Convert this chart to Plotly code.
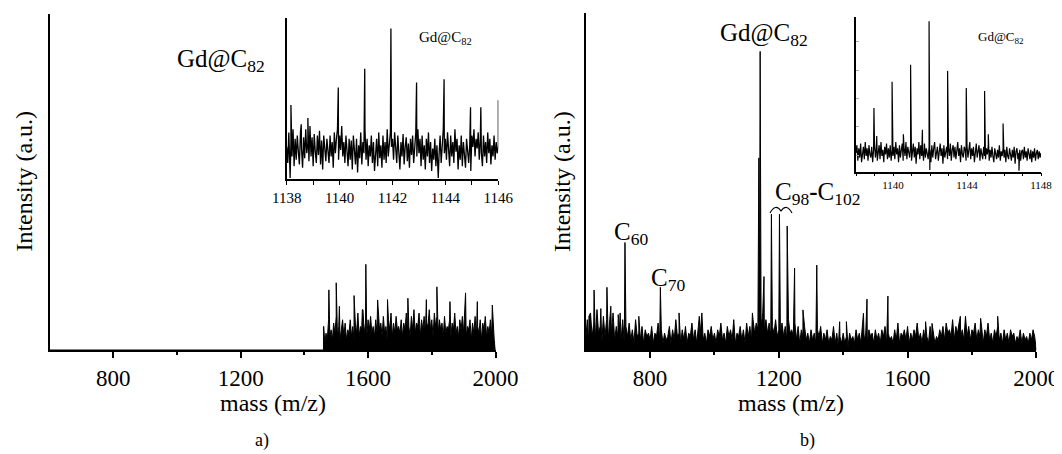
import plotly.graph_objects as go

W, H = 1062, 454
OFF = 8  # page body margin of the html page

# ---------------- data ----------------
# Panel a main spectrum (noise band from 1460 to 2000, step 4), intensity in % of axis height
a_noise_start, a_noise_step = 1460, 4
a_noise = [
    7, 2, 5, 3, 9, 4, 6, 3, 8, 5, 10, 4, 7, 3, 6, 9, 4, 8, 3, 6,
    5, 9, 4, 7, 3, 8, 5, 11, 4, 7, 6, 12, 5, 8, 4, 9, 6, 10, 5, 7,
    4, 9, 5, 11, 6, 8, 4, 10, 5, 7, 3, 9, 6, 11, 4, 8, 5, 10, 6, 7,
    5, 9, 4, 8, 6, 11, 5, 7, 4, 10, 6, 12, 5, 8, 7, 11, 4, 9, 6, 10,
    5, 8, 7, 12, 6, 9, 4, 11, 7, 10, 5, 9, 6, 8, 4, 10, 5, 7, 6, 9,
    4, 8, 6, 11, 5, 7, 4, 9, 6, 10, 5, 12, 4, 7, 6, 9, 3, 8, 5, 10,
    4, 7, 5, 9, 3, 8, 6, 10, 4, 7, 5, 9, 4, 8, 3, 0,
]
a_peak_mass = [1461, 1477, 1500, 1510, 1556, 1582, 1593, 1630, 1661, 1725, 1783, 1816, 1857, 1906, 1943, 1990]
a_peak_int = [7, 17.9, 20, 13, 16.2, 12, 25.5, 14.9, 15, 15.4, 15, 18.8, 14.4, 17, 14.4, 13.4]

# Panel b main spectrum (600..2000 step 5)
b_noise_start, b_noise_step = 600, 5
b_noise = [
    3, 9, 2, 11, 4, 8, 3, 12, 5, 7, 2, 10, 4, 9, 3, 8, 5, 11, 3, 7, 4,
    6, 3, 9, 2, 7, 4, 8, 3, 6, 2, 9, 4, 5, 3, 7, 2, 6, 4, 5, 3,
    7, 2, 5, 4, 8, 3, 6, 2, 5, 3, 4, 7, 2, 6, 3, 9, 4, 5, 2, 6,
    3, 7, 2, 5, 4, 8, 3, 6, 2, 7, 4, 9, 3, 5, 2, 6, 4, 7, 3, 5,
    2, 6, 4, 8, 3, 5, 2, 7, 4, 6, 3, 9, 2, 5, 4, 7, 3, 6, 2, 8,
    4, 7, 3, 9, 5, 8, 6, 10, 7, 11, 6, 9, 5, 8, 4, 7, 5, 9, 4, 6,
    5, 8, 4, 7, 3, 9, 5, 6, 4, 8, 3, 7, 2, 6, 4, 7, 3, 5, 2, 6,
    3, 5, 2, 6, 4, 7, 2, 5, 3, 6, 2, 4, 3, 7, 2, 5, 1, 4, 2, 5,
    2, 4, 1, 5, 3, 4, 2, 6, 3, 5, 2, 7, 3, 5, 2, 6, 4, 5, 2, 6,
    3, 5, 2, 6, 4, 7, 2, 5, 3, 4, 2, 6, 3, 8, 2, 5, 4, 6, 3, 7,
    2, 5, 3, 6, 4, 8, 3, 5, 2, 6, 3, 4, 2, 7, 3, 5, 2, 4, 3, 6,
    4, 7, 3, 8, 5, 6, 4, 9, 3, 7, 5, 8, 4, 6, 3, 9, 4, 7, 3, 6,
    5, 8, 3, 6, 4, 7, 2, 6, 4, 8, 3, 5, 2, 6, 4, 7, 3, 5, 2, 6,
    3, 5, 2, 6, 4, 5, 2, 4, 3, 6, 2, 5, 3, 4, 2, 5, 3, 6, 4, 0,
]
b_peak_mass = [610, 626, 647, 666, 678, 701, 707, 722, 765, 832, 890, 953, 961, 1118,
               1138, 1142, 1154, 1177, 1202, 1226, 1249, 1275, 1318, 1389, 1410, 1463,
               1474, 1539, 1656, 1676, 1764, 1780, 1827, 1880, 1990]
b_peak_int = [10, 17.8, 12.3, 18.6, 13, 10.5, 11, 31.9, 10, 18.6, 11, 10, 11, 11,
              57, 88.6, 21.8, 40.3, 40.3, 36.8, 24.3, 11.9, 25.2, 8.4, 8.4, 10.9,
              15.1, 16, 8.4, 7.9, 10, 10, 9.4, 10, 5.9]

# Inset a (1138..1146, step 0.04)
ia_start, ia_step = 1138.0, 0.04
ia_noise = [
    20, 10, 29, 6, 23, 14, 31, 8, 25, 12, 27, 17, 9, 29, 19, 7, 26, 13, 31, 16,
    23, 11, 33, 14, 26, 8, 28, 17, 10, 27, 15, 30, 9, 24, 6, 27, 16, 11, 25, 19,
    10, 27, 14, 23, 7, 29, 16, 25, 31, 12, 27, 18, 33, 14, 23, 10, 27, 16, 8, 25,
    12, 24, 6, 27, 15, 9, 25, 4, 21, 13, 29, 9, 23, 16, 31, 12, 25, 8, 21, 14,
    27, 10, 23, 5, 19, 25, 8, 29, 13, 21, 7, 27, 12, 23, 10, 31, 14, 21, 29, 20,
    25, 12, 29, 16, 10, 27, 19, 6, 23, 14, 28, 9, 20, 26, 11, 22, 7, 25, 15, 27,
    10, 23, 29, 14, 31, 16, 25, 8, 27, 12, 21, 6, 25, 14, 29, 10, 23, 5, 19, 12,
    25, 8, 21, 3, 15, 27, 10, 23, 31, 16, 25, 12, 29, 19, 8, 27, 14, 23, 10, 31,
    17, 25, 6, 21, 12, 27, 8, 23, 15, 7, 25, 17, 10, 21, 5, 27, 20, 31, 14, 25,
    19, 29, 12, 25, 16, 8, 27, 14, 23, 10, 29, 16, 25, 9, 21, 14, 27, 12, 23, 16,
    20,
]
ia_peak_mass = [1138.13, 1138.16, 1138.55, 1138.8, 1139.95, 1140.95, 1141.94, 1142.91,
                1143.73, 1143.95, 1144.95, 1145.34, 1146.0]
ia_peak_int = [0.6, 46, 34, 38, 57, 68.6, 93.7, 60, 0.6, 62, 44.6, 44.6, 49]

# Inset b (1138..1148, step 0.05)
ib_start, ib_step = 1138.0, 0.05
ib_noise = [
    12, 17, 7, 15, 9, 18, 6, 14, 16, 8, 19, 10, 15, 7, 17, 11, 9, 16, 6, 14,
    18, 9, 15, 7, 13, 17, 8, 19, 10, 14, 6, 16, 11, 18, 8, 15, 9, 17, 7, 14,
    10, 16, 8, 19, 11, 15, 6, 17, 9, 14, 18, 7, 15, 10, 19, 8, 16, 11, 9, 17,
    7, 14, 18, 9, 16, 5, 15, 11, 19, 8, 17, 10, 14, 7, 18, 9, 15, 11, 8, 16,
    14, 6, 17, 9, 15, 19, 8, 13, 16, 7, 14, 18, 10, 15, 5, 17, 9, 14, 16, 8,
    15, 10, 18, 7, 14, 17, 9, 16, 8, 13, 19, 10, 15, 6, 17, 11, 9, 16, 14, 7,
    17, 9, 14, 19, 8, 15, 10, 16, 6, 13, 18, 9, 14, 17, 7, 15, 11, 8, 16, 10,
    8, 15, 11, 17, 7, 14, 9, 16, 10, 6, 15, 11, 8, 14, 9, 17, 7, 13, 10, 15,
    9, 14, 6, 16, 10, 8, 15, 11, 7, 14, 9, 16, 5, 13, 15, 8, 12, 14, 7, 13,
    14, 8, 16, 9, 13, 7, 15, 10, 8, 14, 6, 13, 9, 15, 7, 12, 14, 8, 13, 9,
    12,
]
ib_peak_mass = [1138.97, 1139.12, 1139.95, 1140.56, 1140.95, 1141.59, 1141.95, 1141.99,
                1142.95, 1143.96, 1144.95, 1145.15, 1145.95, 1146.81]
ib_peak_int = [41, 23, 58, 24, 69, 27, 97, 1, 65, 54, 52, 24, 31, 0.5]

main_ticks = [800, 1200, 1600, 2000]


# ---------------- helpers ----------------
def build(start, step, noise, pm, pi, lead=None):
    pts = [(round(start + i * step, 4), v, 0) for i, v in enumerate(noise)]
    pts += [(m, v, 1) for m, v in zip(pm, pi)]
    if lead is not None:
        pts.append((lead, 0, -1))
        pts.append((start, 0, -1))
    pts.sort(key=lambda p: (p[0], p[2]))
    return [p[0] for p in pts], [p[1] for p in pts]


FW, FH = W - OFF, H - OFF


def px(x):
    return (x - OFF) / FW


def py(y):
    return 1 - (y - OFF) / FH


SERIF = "Liberation Serif, Times New Roman, serif"

ax_x, ay = build(a_noise_start, a_noise_step, a_noise, a_peak_mass, a_peak_int, lead=600)
bx, by = build(b_noise_start, b_noise_step, b_noise, b_peak_mass, b_peak_int)
iax, iay = build(ia_start, ia_step, ia_noise, ia_peak_mass, ia_peak_int)
ibx, iby = build(ib_start, ib_step, ib_noise, ib_peak_mass, ib_peak_int)

fig = go.Figure()
fig.add_trace(go.Scatter(x=ax_x, y=ay, mode="lines", line=dict(color="black", width=1),
                         fill="tozeroy", fillcolor="black", xaxis="x", yaxis="y"))
fig.add_trace(go.Scatter(x=bx, y=by, mode="lines", line=dict(color="black", width=1),
                         fill="tozeroy", fillcolor="black", xaxis="x2", yaxis="y2"))
fig.add_trace(go.Scatter(x=iax, y=iay, mode="lines", line=dict(color="black", width=1.3),
                         xaxis="x3", yaxis="y3"))
fig.add_trace(go.Scatter(x=ibx, y=iby, mode="lines", line=dict(color="black", width=1.2),
                         xaxis="x4", yaxis="y4"))

main_x = dict(range=[600, 2000], showline=True, linewidth=2, linecolor="black",
              ticks="outside", ticklen=6, tickwidth=1.5, tickcolor="black",
              tickvals=main_ticks, showgrid=False, zeroline=False, automargin=False,
              minor=dict(tickvals=[1000, 1400, 1800], ticks="outside", ticklen=3,
                         tickwidth=1.5, tickcolor="black"),
              tickfont=dict(family=SERIF, size=23, color="black"))
main_y = dict(range=[0, 100], showline=True, linewidth=2, linecolor="black",
              ticks="", showticklabels=False, showgrid=False, zeroline=False,
              automargin=False)

fig.update_layout(
    width=FW, height=FH, margin=dict(l=0, r=0, t=0, b=0, autoexpand=False),
    paper_bgcolor="white", plot_bgcolor="rgba(0,0,0,0)", showlegend=False,
    xaxis=dict(main_x, domain=[px(49.5), px(495.5)], anchor="y"),
    yaxis=dict(main_y, domain=[py(350), py(14)], anchor="x"),
    xaxis2=dict(main_x, domain=[px(585.7), px(1036.3)], anchor="y2"),
    yaxis2=dict(main_y, domain=[py(350), py(13)], anchor="x2"),
    xaxis3=dict(range=[1138, 1146], domain=[px(286.7), px(498.3)], anchor="y3",
                showline=True, linewidth=1.5, linecolor="black", automargin=False,
                ticks="outside", ticklen=4, tickwidth=1, tickcolor="black",
                tick0=1138, dtick=2, showgrid=False, zeroline=False,
                minor=dict(tick0=1138, dtick=1, ticks="outside", ticklen=4, tickwidth=1,
                           tickcolor="black"),
                tickfont=dict(family=SERIF, size=15, color="black")),
    yaxis3=dict(range=[0, 100], domain=[py(179), py(18.3)], anchor="x3",
                showline=True, linewidth=1.5, linecolor="black", ticks="",
                automargin=False,
                showticklabels=False, showgrid=False, zeroline=False),
    xaxis4=dict(range=[1138, 1148], domain=[px(856), px(1041)], anchor="y4",
                showline=True, linewidth=1.5, linecolor="black", automargin=False,
                ticks="outside", ticklen=3, tickwidth=1, tickcolor="black",
                tick0=1140, dtick=4, showgrid=False, zeroline=False,
                minor=dict(tick0=1138, dtick=1, ticks="outside", ticklen=3, tickwidth=1,
                           tickcolor="black"),
                tickfont=dict(family=SERIF, size=11, color="black")),
    yaxis4=dict(range=[0, 100], domain=[py(171.5), py(16.7)], anchor="x4",
                showline=True, linewidth=1.5, linecolor="black", automargin=False,
                ticks="inside", ticklen=3, tickcolor="#aaaaaa",
                tickvals=[10.6, 28.9, 47.2, 65.5, 83.8],
                showticklabels=False, showgrid=False, zeroline=False),
)

big = dict(family=SERIF, size=25, color="black")
ann = [
    ("Intensity (a.u.)", 23.6, 181, dict(family=SERIF, size=24, color="black"), -90, "middle"),
    ("Intensity (a.u.)", 562, 182, dict(family=SERIF, size=24, color="black"), -90, "middle"),
    ("mass (m/z)", 273, 403, dict(family=SERIF, size=24, color="black"), 0, "middle"),
    ("mass (m/z)", 791, 403, dict(family=SERIF, size=24, color="black"), 0, "middle"),
    ("a)", 262, 453, dict(family=SERIF, size=18, color="black"), 0, "bottom"),
    ("b)", 807, 453, dict(family=SERIF, size=18, color="black"), 0, "bottom"),
    ("Gd@C<sub>82</sub>", 221, 60, big, 0, "middle"),
    ("Gd@C<sub>82</sub>", 764, 35, big, 0, "middle"),
    ("Gd@C<sub>82</sub>", 445, 38, dict(family=SERIF, size=15, color="black"), 0, "middle"),
    ("Gd@C<sub>82</sub>", 1001, 38, dict(family=SERIF, size=13, color="black"), 0, "middle"),
    ("C<sub>98</sub><b>-</b>C<sub>102</sub>", 817, 193, big, 0, "middle"),
    ("C<sub>60</sub>", 631, 233, big, 0, "middle"),
    ("C<sub>70</sub>", 668, 279, big, 0, "middle"),
]
for text, x, y, font, ang, yanc in ann:
    fig.add_annotation(text=text, x=px(x), y=py(y), xref="paper", yref="paper",
                       showarrow=False, font=font, textangle=ang,
                       xanchor="center", yanchor=yanc)

# curly brace under the C98-C102 label
brace = (f"M {px(770)},{py(213)} Q {px(775.5)},{py(203)} {px(781)},{py(211)} "
         f"Q {px(786.5)},{py(203)} {px(792)},{py(213)}")
fig.add_shape(type="path", path=brace, xref="paper", yref="paper",
              line=dict(color="black", width=1.2))

fig.write_html("out.html")
